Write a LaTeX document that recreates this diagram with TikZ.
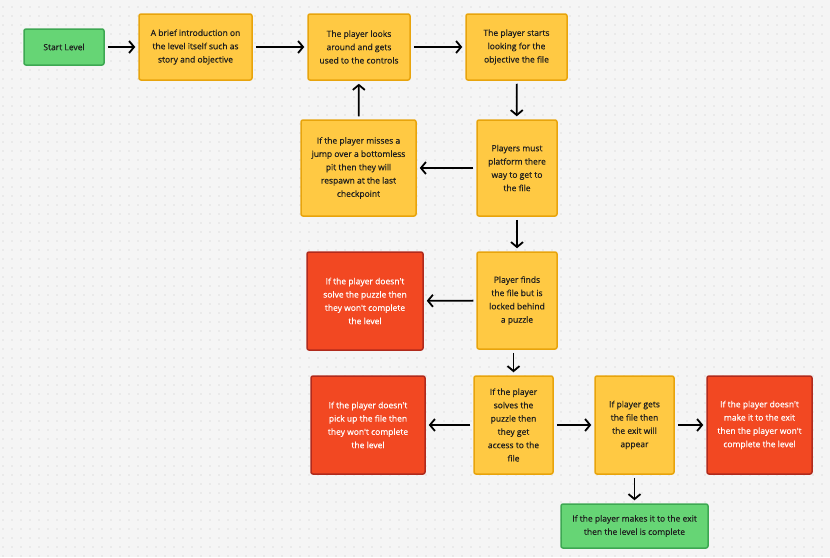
\documentclass[tikz,border=0pt]{standalone}
\usepackage{fontspec}
\setmainfont{Open Sans}
\newfontfamily\boxfont[FakeBold=0.4]{Open Sans}
\usetikzlibrary{arrows.meta}
\definecolor{bgcol}{HTML}{F5F5F5}
\definecolor{dotcol}{HTML}{C9C9C9}
\definecolor{yelfill}{HTML}{FFC943}
\definecolor{yeledge}{HTML}{E8A40C}
\definecolor{redfill}{HTML}{F24822}
\definecolor{rededge}{HTML}{B02A1C}
\definecolor{grnfill}{HTML}{66D575}
\definecolor{grnedge}{HTML}{3DA852}
\definecolor{txtcol}{HTML}{1E1E1E}
\tikzset{
  box/.style={rounded corners=2pt, line width=1.5pt, inner sep=0pt, align=center,
    font=\boxfont\fontsize{8.5}{13.3}\selectfont, text=txtcol},
  yelbox/.style={box, fill=yelfill, draw=yeledge},
  redbox/.style={box, fill=redfill, draw=rededge, text=white},
  grnbox/.style={box, fill=grnfill, draw=grnedge},
  flow/.style={line width=1.8pt, -{Straight Barb[length=5pt,width=12pt,line width=1.8pt]}, shorten <=3pt, shorten >=3pt}
}

\begin{document}
\begin{tikzpicture}[x=1pt,y=-1pt]
    \fill[bgcol] (0,0) rectangle (830,557);
    \useasboundingbox (0,0) rectangle (830,557);
    \foreach \x in {3,12,...,830}
        \foreach \y in {7,16,...,557}
            \fill[dotcol] (\x,\y) circle (0.6pt);

    % top row
    \node[grnbox, minimum width=80pt, minimum height=36pt] (start) at (64,47) {Start Level};
    \node[yelbox, minimum width=113pt, minimum height=66pt] (intro) at (195.5,47)
        {A brief introduction on\\the level itself such as\\story and objective};
    \node[yelbox, minimum width=102pt, minimum height=66pt] (looks) at (359,47)
        {The player looks\\around and gets\\used to the controls};
    \node[yelbox, minimum width=101pt, minimum height=66pt] (search) at (516.5,47)
        {The player starts\\looking for the\\objective the file};

    % platforming
    \node[yelbox, minimum width=115pt, minimum height=96pt] (respawn) at (358.5,168)
        {If the player misses a\\jump over a bottomless\\pit then they will\\respawn at the last\\checkpoint};
    \node[yelbox, minimum width=80pt, minimum height=96pt] (platform) at (517,168)
        {Players must\\platform there\\way to get to\\the file};

    % puzzle
    \node[yelbox, minimum width=80pt, minimum height=97pt] (locked) at (517,300.5)
        {Player finds\\the file but is\\locked behind\\a puzzle};
    \node[redbox, minimum width=116pt, minimum height=98pt] (nosolve) at (365,301)
        {If the player doesn't\\solve the puzzle then\\they won't complete\\the level};

    % bottom row
    \node[yelbox, minimum width=79pt, minimum height=98pt] (solved) at (513.5,425)
        {If the player\\solves the\\puzzle then\\they get\\access to the\\file};
    \node[redbox, minimum width=114pt, minimum height=98pt] (nopick) at (368,425)
        {If the player doesn't\\pick up the file then\\they won't complete\\the level};
    \node[yelbox, minimum width=79pt, minimum height=98pt] (exit) at (634.5,425)
        {If player gets\\the file then\\the exit will\\appear};
    \node[redbox, minimum width=105pt, minimum height=98pt] (noexit) at (759.5,425)
        {If the player doesn't\\make it to the exit\\then the player won't\\complete the level};
    \node[grnbox, minimum width=147pt, minimum height=44pt] (done) at (634.5,526)
        {If the player makes it to the exit\\then the level is complete};

    \draw[flow] (start) -- (intro);
    \draw[flow] (intro) -- (looks);
    \draw[flow] (looks) -- (search);
    \draw[flow] (search) -- (platform);
    \draw[flow] (platform) -- (respawn);
    \draw[flow] (respawn) -- (looks);
    \draw[flow] (platform) -- (locked);
    \draw[flow] (locked) -- (nosolve);
    \draw[flow] (locked.south -| solved) -- (solved);
    \draw[flow] (solved) -- (nopick);
    \draw[flow] (solved) -- (exit);
    \draw[flow] (exit) -- (noexit);
    \draw[flow] (exit) -- (done);
\end{tikzpicture}
\end{document}
